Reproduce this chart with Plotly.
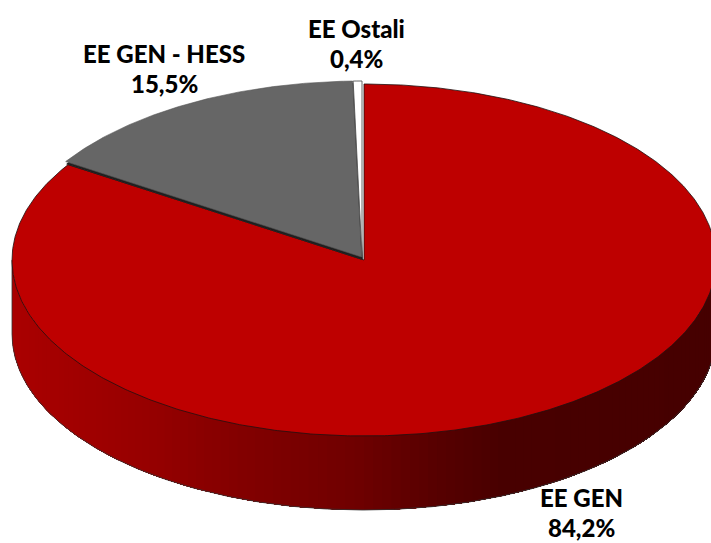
import math
import plotly.graph_objects as go

# --- data ---
labels = ["EE GEN", "EE GEN - HESS", "EE Ostali"]
shares = [84.2, 15.5, 0.4]
share_text = ["84,2%", "15,5%", "0,4%"]

# --- style / geometry ---
colors = ["#BE0000", "#666666", "#FFFFFF"]
W, H = 711, 543
CX, CY, RX, RY, DEPTH = 364, 260, 352, 176, 74
OFFSETS = [(0, 0), (-2.5, -3), (-2, -3)]
label_pos = [(581, 497, 527), (164, 53, 83), (356, 28, 58)]
FONT = "Lato"
FSIZE = 24


def pt(theta, dx=0, dy=0, depth=0):
    """theta: degrees clockwise from 12 o'clock."""
    t = math.radians(theta)
    return CX + dx + RX * math.sin(t), CY + dy + depth + RY * (-math.cos(t))


def arc(a, b, dx=0, dy=0, depth=0, n=None):
    n = n or max(2, int(abs(b - a) * 2))
    pts = [pt(a + (b - a) * i / n, dx, dy, depth) for i in range(n + 1)]
    return [p[0] for p in pts], [p[1] for p in pts]


def wall_color(x):
    stops = [(12, (170, 0, 0)), (140, (152, 0, 0)), (240, (130, 0, 0)),
             (350, (112, 0, 0)), (430, (88, 0, 0)), (500, (72, 0, 0)), (720, (70, 0, 0))]
    for (x0, c0), (x1, c1) in zip(stops, stops[1:]):
        if x <= x1:
            f = (x - x0) / (x1 - x0)
            return "rgb(%d,%d,%d)" % tuple(round(p + (q - p) * f) for p, q in zip(c0, c1))
    return "rgb(70,0,0)"


fig = go.Figure()


def poly(xs, ys, fill, line=None, width=0):
    fig.add_trace(go.Scatter(
        x=xs, y=ys, mode="lines", fill="toself", fillcolor=fill,
        line=dict(color=line or fill, width=width), hoverinfo="skip", showlegend=False))


def stroke(xs, ys, color, width):
    fig.add_trace(go.Scatter(x=xs, y=ys, mode="lines", line=dict(color=color, width=width),
                             hoverinfo="skip", showlegend=False))


total = sum(shares)
angles = [0]
for s in shares:
    angles.append(angles[-1] + 360 * s / total)

# side wall of the big slice: painted from left to right, each layer covering the rest
STEP = 1.5
theta = 270
while theta > 90:
    xt, yt = arc(theta, 90, n=max(2, int((theta - 90) / 3)))
    xb, yb = arc(theta, 90, depth=DEPTH, n=max(2, int((theta - 90) / 3)))
    col = wall_color(xt[0] + 2)
    poly(xt + xb[::-1] + [xt[0]], yt + yb[::-1] + [yt[0]], col)
    theta -= STEP

# outline of the wall
xb, yb = arc(90, 270, depth=DEPTH)
stroke([pt(90)[0]] + xb + [pt(270)[0]], [pt(90)[1]] + yb + [pt(270)[1]], "#333333", 0.8)

# big slice
xs, ys = arc(angles[0], angles[1])
poly([CX] + xs + [CX], [CY] + ys + [CY], colors[0], "#201010", 0.8)

# grey slice: thin dark body beneath, face above
dx, dy = OFFSETS[1]
xs, ys = arc(angles[1], angles[2], dx, dy)
poly([CX + dx + 1] + [x + 1 for x in xs] + [CX + dx + 1],
     [CY + dy + 2.5] + [y + 2.5 for y in ys] + [CY + dy + 2.5], "#1E1E1E", "#1E1E1E", 0.8)
poly([CX + dx] + xs + [CX + dx], [CY + dy] + ys + [CY + dy], colors[1], "#555555", 0.6)

# white slice
dx, dy = OFFSETS[2]
xs, ys = arc(angles[2], 360, dx, dy, n=3)
poly([CX + dx] + xs + [CX + dx], [CY + dy] + ys + [CY + dy], colors[2], "#555555", 0.9)

for name, pct, (lx, ly1, ly2) in zip(labels, share_text, label_pos):
    for txt, ly in ((name, ly1), (pct, ly2)):
        fig.add_annotation(x=lx, y=ly, text=txt, showarrow=False,
                           xanchor="center", yanchor="middle", align="center",
                           font=dict(family=FONT, size=FSIZE, color="#000000", weight=900))

fig.update_layout(
    width=W, height=H, margin=dict(l=0, r=0, t=0, b=0),
    paper_bgcolor="white", plot_bgcolor="white", showlegend=False,
    xaxis=dict(range=[0, W], visible=False, fixedrange=True),
    yaxis=dict(range=[H, 0], visible=False, fixedrange=True),
)
fig.write_html("out.html", config={"displayModeBar": False},
               post_script="document.body.style.margin='0';document.body.style.overflow='hidden';")
